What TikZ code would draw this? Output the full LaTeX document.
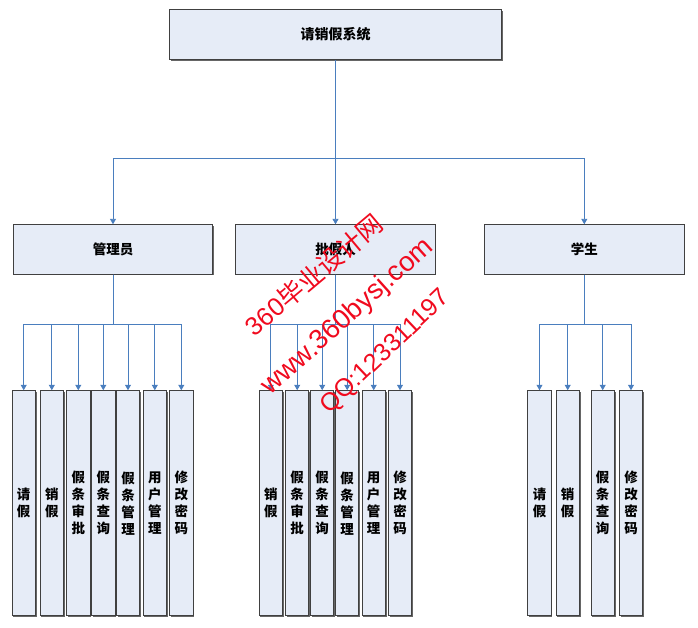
\documentclass[tikz,border=0pt]{standalone}
\usepackage{fontspec}
\setmainfont{Liberation Sans}
\newfontfamily\cjk{Noto Sans CJK SC}
\newfontfamily\wmfont{Liberation Sans}
\usetikzlibrary{arrows.meta,shadows}
\definecolor{boxfill}{RGB}{230,236,247}
\definecolor{linkblue}{RGB}{74,126,190}
\definecolor{wmred}{RGB}{240,10,30}
\begin{document}
\begin{tikzpicture}[x=1pt,y=-1pt,
  box/.style={draw=black!75,line width=0.9pt,fill=boxfill,inner sep=0pt,
    drop shadow={shadow xshift=1.2pt,shadow yshift=-1.2pt,fill=black!60,opacity=1},
    font=\cjk\bfseries\fontsize{13.5}{17}\selectfont,align=center},
  upper/.style={box,minimum width=199.3pt,minimum height=49.3pt},
  leaf/.style={box,minimum width=23.3pt,minimum height=225pt},
  link/.style={draw=linkblue,line width=0.9pt,-{Triangle[width=6pt,length=5.5pt]}},
  watermark/.style={text=wmred,font=\wmfont\fontsize{#1}{#1}\selectfont,inner sep=0pt},
]
\useasboundingbox (0,0) rectangle (698,627);

% top
\node[box,minimum width=332.4pt,minimum height=50pt,font=\cjk\bfseries\fontsize{14}{17}\selectfont] (top) at (335.5,34.3) {请销假系统};

% second level
\node[upper] (admin) at (113,249.4) {管理员};
\node[upper] (appr) at (335.5,249.4) {批假人};
\node[upper] (stu) at (584.3,249.4) {学生};

% leaves: admin
\node[leaf] (a1) at (23.7,503.2) {请\\假};
\node[leaf] (a2) at (51.8,503.2) {销\\假};
\node[leaf] (a3) at (78.3,503.2) {假\\条\\审\\批};
\node[leaf] (a4) at (103.3,503.2) {假\\条\\查\\询};
\node[leaf] (a5) at (128,503.2) {假\\条\\管\\理};
\node[leaf] (a6) at (154.8,503.2) {用\\户\\管\\理};
\node[leaf] (a7) at (181.3,503.2) {修\\改\\密\\码};

% leaves: approver
\node[leaf] (b1) at (270.8,503.2) {销\\假};
\node[leaf] (b2) at (297.2,503.2) {假\\条\\审\\批};
\node[leaf] (b3) at (322.2,503.2) {假\\条\\查\\询};
\node[leaf] (b4) at (347.2,503.2) {假\\条\\管\\理};
\node[leaf] (b5) at (373.7,503.2) {用\\户\\管\\理};
\node[leaf] (b6) at (400,503.2) {修\\改\\密\\码};

% leaves: student
\node[leaf] (c1) at (539.5,503.2) {请\\假};
\node[leaf] (c2) at (567.7,503.2) {销\\假};
\node[leaf] (c3) at (602.7,503.2) {假\\条\\查\\询};
\node[leaf] (c4) at (631,503.2) {修\\改\\密\\码};

% connectors
\coordinate (bus0) at (0,158.3);
\coordinate (bus1) at (0,324.3);
\foreach \n in {admin,appr,stu}
  \draw[link] (top.south) -- (top.south |- bus0) -| (\n.north);
\foreach \n in {a1,a2,a3,a4,a5,a6,a7}
  \draw[link] (admin.south) -- (admin.south |- bus1) -| (\n.north);
\foreach \n in {b1,b2,b3,b4,b5,b6}
  \draw[link] (appr.south) -- (appr.south |- bus1) -| (\n.north);
\foreach \n in {c1,c2,c3,c4}
  \draw[link] (stu.south) -- (stu.south |- bus1) -| (\n.north);

% watermark
\node[watermark=25.6,rotate=40] (wm1) at (314,275) {360{\cjk 毕业设计网}};
\node[watermark=27.5,rotate=42] (wm2) at (348,317) {www.360bysj.com};
\node[watermark=25,rotate=43.5] (wm3) at (386,352) {QQ:123311197};
\end{tikzpicture}
\end{document}
